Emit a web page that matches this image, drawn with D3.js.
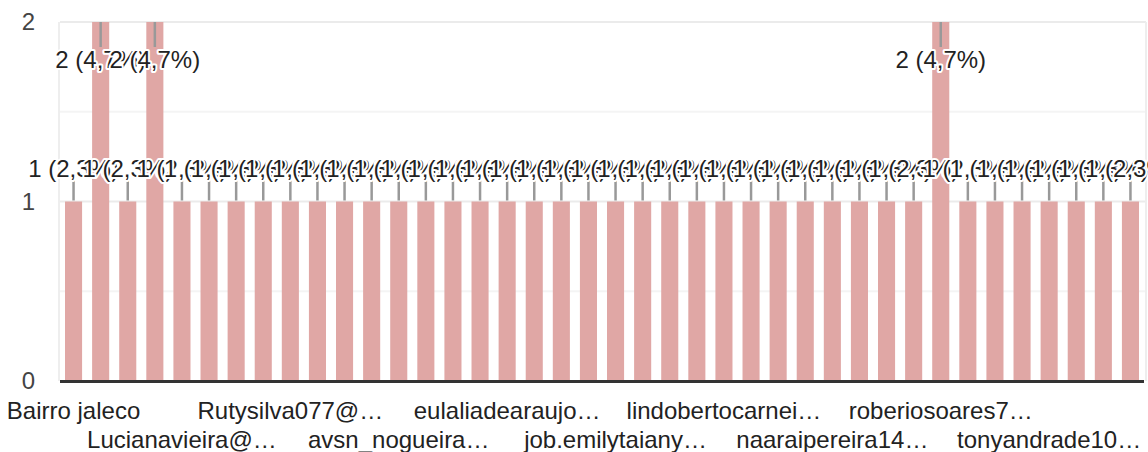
<!DOCTYPE html>
<html>
<head>
<meta charset="utf-8">
<script src="https://cdn.jsdelivr.net/npm/d3@7"></script>
<style>
  body { margin: 0; background: #fff; }
  text { font-family: "Liberation Sans", Arial, sans-serif; }
</style>
</head>
<body>
<div id="viz"></div>
<script>
// one bar per respondent, 40 bars, total 43
var values = [1, 2, 1, 2, 1, 1, 1, 1, 1, 1,
              1, 1, 1, 1, 1, 1, 1, 1, 1, 1,
              1, 1, 1, 1, 1, 1, 1, 1, 1, 1,
              1, 1, 2, 1, 1, 1, 1, 1, 1, 1];
// labels shown under every 4th bar
var tickLabels = ['Bairro jaleco', 'Lucianavieira@…', 'Rutysilva077@…', 'avsn_nogueira…',
                  'eulaliadearaujo…', 'job.emilytaiany…', 'lindobertocarnei…', 'naaraipereira14…',
                  'roberiosoares7…', 'tonyandrade10…'];
var yTicks = [0, 1, 2];

var width = 1148, height = 452;
var total = d3.sum(values);

var svg = d3.select('#viz').append('svg')
    .attr('width', width).attr('height', height);

var x = d3.scaleBand()
    .domain(d3.range(values.length))
    .range([60, 1144])
    .paddingInner(0.37)
    .paddingOuter(0.185);

var y = d3.scaleLinear().domain([0, 2]).range([381, 22]);

// minor gridlines
svg.append('g').selectAll('line')
    .data([0.5, 1.5])
    .join('line')
    .attr('x1', 60).attr('x2', 1146)
    .attr('y1', d => y(d)).attr('y2', d => y(d))
    .attr('stroke', '#f4f4f4').attr('stroke-width', 2);

// major gridlines
svg.append('g').selectAll('line')
    .data([1, 2])
    .join('line')
    .attr('x1', 60).attr('x2', 1146)
    .attr('y1', d => y(d)).attr('y2', d => y(d))
    .attr('stroke', '#ebebeb').attr('stroke-width', 2);

// side borders
svg.append('g').selectAll('line')
    .data([59, 1146])
    .join('line')
    .attr('x1', d => d).attr('x2', d => d)
    .attr('y1', y(2)).attr('y2', y(0))
    .attr('stroke', '#eeeeee').attr('stroke-width', 2);

// y labels
svg.append('g').selectAll('text')
    .data(yTicks)
    .join('text')
    .attr('x', 35)
    .attr('y', d => y(d))
    .attr('dy', '0.35em')
    .attr('text-anchor', 'end')
    .attr('font-size', 24)
    .attr('fill', '#444')
    .text(d => d);

// bars
svg.append('g').selectAll('rect')
    .data(values)
    .join('rect')
    .attr('x', (d, i) => x(i))
    .attr('y', d => y(d))
    .attr('width', x.bandwidth())
    .attr('height', d => y(0) - y(d))
    .attr('fill', '#e0a7a5');

// baseline
svg.append('line')
    .attr('x1', 60).attr('x2', 1144)
    .attr('y1', y(0) + 0.5).attr('y2', y(0) + 0.5)
    .attr('stroke', '#333').attr('stroke-width', 3);

// annotation stems
var cx = i => x(i) + x.bandwidth() / 2;
svg.append('g').selectAll('line')
    .data(values)
    .join('line')
    .attr('x1', (d, i) => cx(i)).attr('x2', (d, i) => cx(i))
    .attr('y1', d => d == 2 ? y(d) : y(d) - 1)
    .attr('y2', d => d == 2 ? y(d) + 25 : y(d) - 21)
    .attr('stroke', '#999').attr('stroke-width', 2.5);

// annotations, drawn in order so later ones cover earlier ones
var fmt = v => v + ' (' + d3.format('.1f')(v / total * 100).replace('.', ',') + '%)';
svg.append('g').selectAll('text')
    .data(values)
    .join('text')
    .attr('x', (d, i) => cx(i))
    .attr('y', d => d == 2 ? y(d) + 46 : y(d) - 25)
    .attr('text-anchor', 'middle')
    .attr('font-size', 24)
    .attr('fill', '#222')
    .attr('stroke', '#fff')
    .attr('stroke-width', 4)
    .attr('stroke-linejoin', 'round')
    .attr('paint-order', 'stroke')
    .text(d => fmt(d));

// x labels, every 4th bar, two rows
svg.append('g').selectAll('text')
    .data(tickLabels)
    .join('text')
    .attr('x', (d, i) => cx(i * 4))
    .attr('y', (d, i) => i % 2 == 0 ? 419 : 448)
    .attr('text-anchor', 'middle')
    .attr('font-size', 24)
    .attr('fill', '#222')
    .text(d => d);
</script>
</body>
</html>
